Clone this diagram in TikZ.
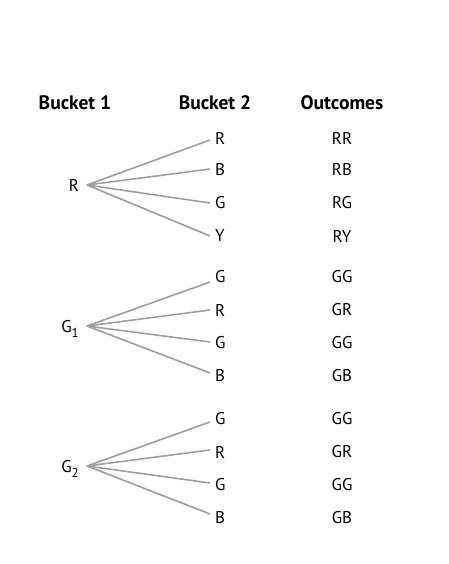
\documentclass[tikz,border=0pt]{standalone}
\usepackage{fontspec}
\setmainfont{PT Sans}
\newcommand{\mysub}[1]{\raisebox{-0.28em}{\fontsize{13}{13}\selectfont #1}}
\begin{document}
\begin{tikzpicture}[x=1pt,y=-1pt,
  head/.style={font=\fontsize{19.5}{22}\selectfont\bfseries},
  lab/.style={font=\fontsize{17}{20}\selectfont, inner sep=0pt},
  leaf/.style={lab, anchor=west},
  root/.style={lab},
  branch/.style={draw=black!38, line width=1.6pt}]
\useasboundingbox (0,0) rectangle (448,564);
\node[head] (h1) at (75,103) {Bucket 1};
\node[head] (h2) at (215,103) {Bucket 2};
\node[head] (h3) at (342,103) {Outcomes};
% group 1
\node[root] (r) at (74,185) {R};
\coordinate (o1) at (87,185);
\node[leaf] (a1) at (215,138) {R};
\node[leaf] (a2) at (215,170) {B};
\node[leaf] (a3) at (215,203) {G};
\node[leaf] (a4) at (215,236) {Y};
\node[lab] (oa1) at (342,138) {RR};
\node[lab] (oa2) at (342,170) {RB};
\node[lab] (oa3) at (342,203) {RG};
\node[lab] (oa4) at (342,236) {RY};
\foreach \i/\dy in {1/2,2/-1,3/0,4/0} \draw[branch] (o1) -- ([xshift=-5pt,yshift=-\dy pt]a\i.west);
% group 2
\node[root] (g1) at (70,329) {G\mysub{1}};
\coordinate (o2) at (87,326);
\node[leaf] (b1) at (215,277) {G};
\node[leaf] (b2) at (215,310) {R};
\node[leaf] (b3) at (215,343) {G};
\node[leaf] (b4) at (215,376) {B};
\node[lab] (ob1) at (342,277) {GG};
\node[lab] (ob2) at (342,310) {GR};
\node[lab] (ob3) at (342,343) {GG};
\node[lab] (ob4) at (342,376) {GB};
\foreach \i/\dy in {1/5,2/0,3/-1,4/-3} \draw[branch] (o2) -- ([xshift=-5pt,yshift=-\dy pt]b\i.west);
% group 3
\node[root] (g2) at (70,469) {G\mysub{2}};
\coordinate (o3) at (87,466);
\node[leaf] (c1) at (215,419) {G};
\node[leaf] (c2) at (215,452) {R};
\node[leaf] (c3) at (215,485) {G};
\node[leaf] (c4) at (215,518) {B};
\node[lab] (oc1) at (342,419) {GG};
\node[lab] (oc2) at (342,452) {GR};
\node[lab] (oc3) at (342,485) {GG};
\node[lab] (oc4) at (342,518) {GB};
\foreach \i/\dy in {1/3,2/-2,3/-2,4/-4} \draw[branch] (o3) -- ([xshift=-5pt,yshift=-\dy pt]c\i.west);
\end{tikzpicture}
\end{document}
